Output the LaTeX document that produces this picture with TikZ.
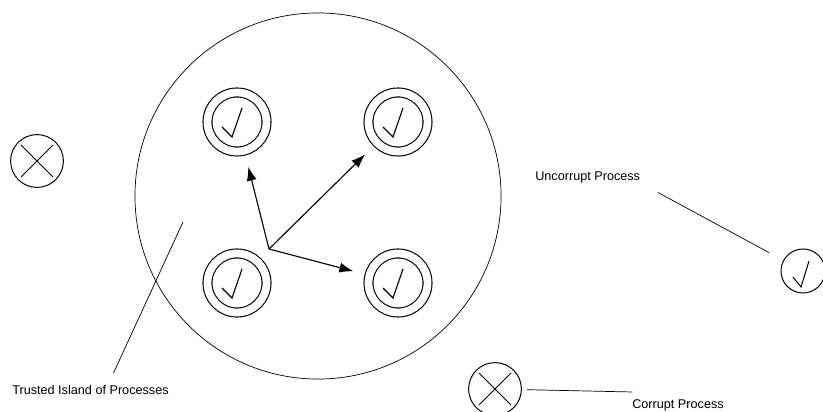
\documentclass[tikz,border=0pt]{standalone}
\usepackage{fontspec}
\setmainfont{Liberation Sans}
\usetikzlibrary{arrows.meta}

\begin{document}
\begin{tikzpicture}[x=0.025cm,y=-0.025cm]

  \useasboundingbox (0,0) rectangle (823,412);

  % node styles
  \tikzstyle{Island}=[
  shape=circle,draw,
  line width=0.5pt,
  inner sep=0mm,
  minimum size=9.15cm]

  \tikzstyle{Good}=[
  shape=circle,draw,
  line width=0.8pt,
  double,double distance=1.95mm,
  inner sep=0mm,
  minimum size=1.475cm,
  path picture={\draw[line width=0.8pt] (path picture bounding box.center)
    ++(-15,5) -- ++(10,10) -- ++(10,-29);}]

  \tikzstyle{Ok}=[
  shape=circle,draw,
  line width=0.7pt,
  inner sep=0mm,
  minimum size=1.1cm,
  path picture={\draw[line width=0.7pt] (path picture bounding box.center)
    ++(-10,6) -- ++(8,10) -- ++(8,-26);}]

  \tikzstyle{Bad}=[
  shape=circle,draw,
  line width=0.7pt,
  inner sep=0mm,
  minimum size=1.32cm,
  path picture={\draw[line width=0.7pt] (path picture bounding box.center)
    ++(-16,-16) -- ++(32,32) ++(0,-32) -- ++(-32,32);}]

  \tikzstyle{Label}=[font=\fontsize{9}{10}\selectfont,inner sep=0mm]
  \tikzstyle{Arrow}=[line width=0.8pt,-{Latex[length=3.5mm,width=2.5mm]},shorten >=4mm]
  \tikzstyle{Line}=[line width=0.5pt]

  % the trusted island
  \node[Island] (T) at (318,196) {};

  \node[Good] (A) at (237,122) {};
  \node[Good] (B) at (398,122) {};
  \node[Good] (C) at (237,283) {};
  \node[Good] (D) at (398,283) {};

  \coordinate (O) at (269,249);
  \draw[Arrow] (O) -- (A);
  \draw[Arrow] (O) -- (B);
  \draw[Arrow] (O) -- (D);

  % outside
  \node[Bad] (X1) at (37,161) {};
  \node[Bad] (X2) at (495,389) {};
  \node[Ok]  (P)  at (803,271) {};

  % labels
  \node[Label,anchor=west] (LT) at (12,390) {Trusted Island of Processes};
  \node[Label,anchor=west] (LU) at (535,177) {Uncorrupt Process};
  \node[Label,anchor=west] (LC) at (632,405) {Corrupt Process};

  \coordinate (I) at (183,222);
  \draw[Line] ([xshift=5.75mm,yshift=3mm]LT.north) -- (I);
  \draw[Line,shorten <=5mm,shorten >=4mm] (LU.south east) -- (P);
  \draw[Line,shorten <=1.25mm] (X2) -- ([yshift=1.75mm]LC.north west);

\end{tikzpicture}
\end{document}
